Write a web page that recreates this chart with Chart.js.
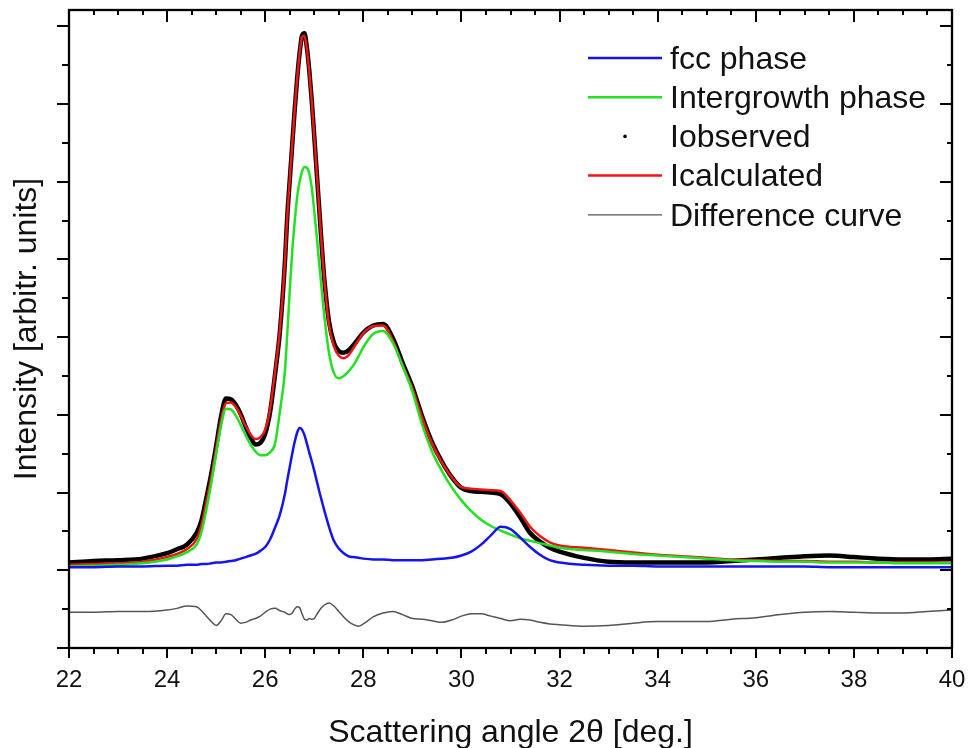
<!DOCTYPE html>
<html>
<head>
<meta charset="utf-8">
<script src="https://cdn.jsdelivr.net/npm/chart.js@4.4.1/dist/chart.umd.min.js"></script>
<style>
  html, body { margin: 0; padding: 0; background: #fff; }
  #wrap { width: 972px; height: 748px; position: relative; }
</style>
</head>
<body>
<div id="wrap"><canvas id="xrd" width="972" height="748"></canvas></div>
<script>
// Scattering angle 2θ in degrees (denser sampling around the peaks)
const angle = [
  22, 22.5, 23, 23.5, 24, 24.2, 24.4, 24.6,
  24.7, 24.8, 24.9, 25.0, 25.1, 25.2, 25.3, 25.4, 25.5, 25.6, 25.7, 25.8, 25.9, 26.0, 26.1, 26.2, 26.3, 26.4,
  26.45, 26.5, 26.55, 26.6, 26.65, 26.7, 26.75, 26.8, 26.85, 26.9, 26.95, 27.0, 27.05, 27.1, 27.15, 27.2,
  27.3, 27.4, 27.5, 27.6, 27.7, 27.8, 27.9, 28.0,
  28.2, 28.4, 28.6, 28.8, 29.0, 29.2, 29.4, 29.6, 29.8, 30.0, 30.2, 30.4, 30.6, 30.8, 31.0, 31.2, 31.4, 31.6, 31.8, 32.0,
  32.5, 33, 33.5, 34, 34.5, 35, 35.5, 36, 36.5, 37, 37.5, 38, 38.5, 39, 39.5, 40
];

// Intensities (arbitrary units)
const iObserved = [
  0.10, 0.12, 0.13, 0.15, 0.22, 0.27, 0.33, 0.48,
  0.64, 0.93, 1.24, 1.60, 1.98, 2.21, 2.20, 2.13, 2.01, 1.85, 1.71, 1.62, 1.64, 1.76, 2.04, 2.52, 3.08, 3.95,
  4.56, 5.02, 5.47, 5.92, 6.32, 6.65, 6.88, 6.91, 6.72, 6.42, 6.03, 5.58, 5.12, 4.66, 4.20, 3.78,
  3.20, 2.93, 2.82, 2.80, 2.83, 2.90, 2.98, 3.06,
  3.15, 3.17, 2.99, 2.67, 2.36, 1.98, 1.65, 1.40, 1.20, 1.06, 1.02, 1.01, 1.00, 0.98, 0.86, 0.68, 0.48, 0.37, 0.29, 0.24,
  0.16, 0.11, 0.10, 0.10, 0.10, 0.10, 0.12, 0.14, 0.16, 0.18, 0.19, 0.17, 0.15, 0.14, 0.14, 0.15
];

const iCalculated = [
  0.07, 0.08, 0.09, 0.11, 0.17, 0.21, 0.27, 0.40,
  0.58, 0.88, 1.20, 1.57, 1.94, 2.15, 2.16, 2.10, 1.99, 1.86, 1.75, 1.69, 1.71, 1.81, 2.08, 2.55, 3.10, 3.95,
  4.56, 5.02, 5.47, 5.92, 6.32, 6.65, 6.86, 6.88, 6.70, 6.40, 6.02, 5.58, 5.12, 4.66, 4.20, 3.78,
  3.16, 2.88, 2.76, 2.73, 2.77, 2.86, 2.96, 3.05,
  3.14, 3.15, 2.96, 2.64, 2.34, 1.96, 1.63, 1.39, 1.20, 1.07, 1.05, 1.04, 1.03, 1.02, 0.90, 0.74, 0.56, 0.44, 0.36, 0.32,
  0.29, 0.26, 0.23, 0.20, 0.18, 0.16, 0.14, 0.13, 0.12, 0.12, 0.11, 0.11, 0.10, 0.10, 0.10, 0.10
];

const intergrowthPhase = [
  0.05, 0.06, 0.07, 0.09, 0.14, 0.18, 0.23, 0.33,
  0.49, 0.78, 1.12, 1.50, 1.86, 2.08, 2.07, 1.99, 1.87, 1.74, 1.62, 1.53, 1.48, 1.48, 1.52, 1.63, 2.05, 2.55,
  3.05, 3.60, 4.10, 4.48, 4.80, 5.00, 5.13, 5.19, 5.18, 5.10, 4.92, 4.62, 4.30, 3.95, 3.62, 3.30,
  2.80, 2.54, 2.47, 2.50, 2.56, 2.64, 2.75, 2.87,
  3.04, 3.08, 2.93, 2.63, 2.30, 1.87, 1.53, 1.28, 1.07, 0.90, 0.76, 0.65, 0.57, 0.51, 0.46, 0.41, 0.38, 0.35, 0.32, 0.29,
  0.26, 0.24, 0.21, 0.19, 0.17, 0.15, 0.13, 0.12, 0.11, 0.11, 0.10, 0.10, 0.10, 0.09, 0.09, 0.09
];

const fccPhase = [
  0.04, 0.04, 0.05, 0.05, 0.06, 0.06, 0.07, 0.07,
  0.08, 0.08, 0.09, 0.10, 0.10, 0.11, 0.12, 0.13, 0.15, 0.17, 0.19, 0.21, 0.25, 0.30, 0.40, 0.55, 0.72, 0.98,
  1.16, 1.33, 1.50, 1.65, 1.77, 1.83, 1.81, 1.74, 1.63, 1.51, 1.40, 1.28, 1.15, 1.02, 0.90, 0.78,
  0.56, 0.38, 0.28, 0.22, 0.18, 0.17, 0.16, 0.15,
  0.14, 0.14, 0.13, 0.13, 0.13, 0.13, 0.14, 0.15, 0.16, 0.19, 0.24, 0.33, 0.45, 0.56, 0.53, 0.42, 0.30, 0.20, 0.13, 0.10,
  0.07, 0.06, 0.06, 0.05, 0.05, 0.05, 0.05, 0.05, 0.05, 0.05, 0.04, 0.04, 0.04, 0.04, 0.04, 0.04
];

const differenceCurve = [
  -0.54, -0.54, -0.53, -0.53, -0.51, -0.49, -0.46, -0.47,
  -0.52, -0.59, -0.66, -0.71, -0.65, -0.56, -0.57, -0.63, -0.68, -0.67, -0.64, -0.62, -0.59, -0.54, -0.50, -0.49, -0.52, -0.54,
  -0.56, -0.57, -0.55, -0.50, -0.47, -0.48, -0.56, -0.63, -0.64, -0.62, -0.63, -0.62, -0.57, -0.52, -0.48, -0.45,
  -0.42, -0.46, -0.53, -0.60, -0.66, -0.70, -0.72, -0.69,
  -0.60, -0.55, -0.53, -0.57, -0.62, -0.63, -0.65, -0.67, -0.64, -0.59, -0.56, -0.56, -0.59, -0.62, -0.65, -0.63, -0.64, -0.67, -0.69, -0.70,
  -0.72, -0.71, -0.68, -0.66, -0.66, -0.66, -0.63, -0.61, -0.57, -0.54, -0.53, -0.54, -0.55, -0.55, -0.53, -0.51
];

const seriesNames = ['fcc phase', 'Intergrowth phase', 'Iobserved', 'Icalculated', 'Difference curve'];
const xTickLabels = [22, 24, 26, 28, 30, 32, 34, 36, 38, 40];

const FONT = '"Liberation Sans", Arial, Helvetica, sans-serif';
const X_MIN = 22, X_MAX = 40, Y_MIN = -1, Y_MAX = 7.21;

const pts = vals => angle.map((a, i) => ({ x: a, y: vals[i] }));

// Box frame with Origin-style ticks: outward on bottom/left, inward on top/right
const frameTicks = {
  id: 'frameTicks',
  afterDatasetsDraw(chart) {
    const { ctx, chartArea: a, scales: { x, y } } = chart;
    ctx.save();
    ctx.strokeStyle = '#000';
    ctx.lineWidth = 2;
    ctx.lineCap = 'butt';
    ctx.beginPath();
    for (let v = X_MIN; v <= X_MAX + 1e-9; v += 0.5) {
      const px = Math.round(x.getPixelForValue(v));
      const major = xTickLabels.includes(v);
      ctx.moveTo(px, a.bottom); ctx.lineTo(px, a.bottom + (major ? 10 : 6));
      ctx.moveTo(px, a.top); ctx.lineTo(px, a.top + (major ? 12 : 5));
    }
    for (let v = Y_MIN; v <= Y_MAX + 1e-9; v += 0.5) {
      const py = Math.round(y.getPixelForValue(v));
      const major = Number.isInteger(v);
      ctx.moveTo(a.left, py); ctx.lineTo(a.left - (major ? 12 : 7), py);
      ctx.moveTo(a.right, py); ctx.lineTo(a.right - (major ? 12 : 5), py);
    }
    ctx.stroke();
    ctx.lineWidth = 2.3;
    ctx.strokeRect(a.left, a.top, a.right - a.left, a.bottom - a.top);
    ctx.restore();
  }
};

// Legend in the upper right of the plot
const legendBox = {
  id: 'legendBox',
  afterDraw(chart) {
    const { ctx } = chart;
    const styles = [
      { kind: 'line', color: '#1414f0', width: 2.5 },
      { kind: 'line', color: '#22e022', width: 2.5 },
      { kind: 'dot',  color: '#000000' },
      { kind: 'line', color: '#ee1515', width: 2.5 },
      { kind: 'line', color: '#555555', width: 1.3 }
    ];
    ctx.save();
    ctx.font = '32px ' + FONT;
    ctx.textBaseline = 'middle';
    seriesNames.forEach((name, i) => {
      const yy = 58 + i * 39.2;
      const s = styles[i];
      if (s.kind === 'line') {
        ctx.strokeStyle = s.color;
        ctx.lineWidth = s.width;
        ctx.beginPath();
        ctx.moveTo(588, yy);
        ctx.lineTo(662, yy);
        ctx.stroke();
      } else {
        ctx.fillStyle = s.color;
        ctx.beginPath();
        ctx.arc(625, yy, 1.8, 0, Math.PI * 2);
        ctx.fill();
      }
      ctx.fillStyle = '#111';
      ctx.fillText(name, 670, yy + 2);
    });
    ctx.restore();
  }
};

const lineSet = (label, vals, color, width, order) => ({
  label,
  data: pts(vals),
  borderColor: color,
  backgroundColor: color,
  borderWidth: width,
  pointRadius: 0,
  fill: false,
  cubicInterpolationMode: 'monotone',
  order
});

new Chart(document.getElementById('xrd'), {
  type: 'line',
  data: {
    datasets: [
      lineSet(seriesNames[0], fccPhase, '#1414f0', 2.5, 0),
      lineSet(seriesNames[1], intergrowthPhase, '#22e022', 2.5, 1),
      lineSet(seriesNames[4], differenceCurve, '#555555', 1.5, 2),
      lineSet(seriesNames[3], iCalculated, '#ee1515', 2.5, 3),
      lineSet(seriesNames[2], iObserved, '#000000', 4.5, 4)
    ]
  },
  options: {
    responsive: false,
    animation: false,
    devicePixelRatio: 1,
    layout: { padding: { top: 10, right: 20, left: 0, bottom: 0 } },
    plugins: { legend: { display: false }, tooltip: { enabled: false } },
    scales: {
      x: {
        type: 'linear',
        min: X_MIN,
        max: X_MAX,
        grid: { display: false, drawTicks: false },
        border: { display: false },
        ticks: {
          stepSize: 2,
          padding: 18,
          color: '#111',
          font: { family: FONT, size: 24 },
          maxRotation: 0,
          callback: v => (xTickLabels.includes(v) ? String(v) : '')
        },
        title: {
          display: true,
          text: 'Scattering angle 2θ [deg.]',
          color: '#111',
          font: { family: FONT, size: 32, lineHeight: 0.9 },
          padding: 0
        },
        afterFit(s) { s.height = 100; s.paddingLeft = 0; s.paddingRight = 0; }
      },
      y: {
        type: 'linear',
        min: Y_MIN,
        max: Y_MAX,
        grid: { display: false, drawTicks: false },
        border: { display: false },
        ticks: { display: false },
        title: {
          display: true,
          text: 'Intensity [arbitr. units]',
          color: '#111',
          font: { family: FONT, size: 32, lineHeight: 1 },
          padding: { top: 11, bottom: 0 }
        },
        afterFit(s) { s.width = 69; s.paddingTop = 0; s.paddingBottom = 0; }
      }
    }
  },
  plugins: [frameTicks, legendBox]
});
</script>
</body>
</html>
